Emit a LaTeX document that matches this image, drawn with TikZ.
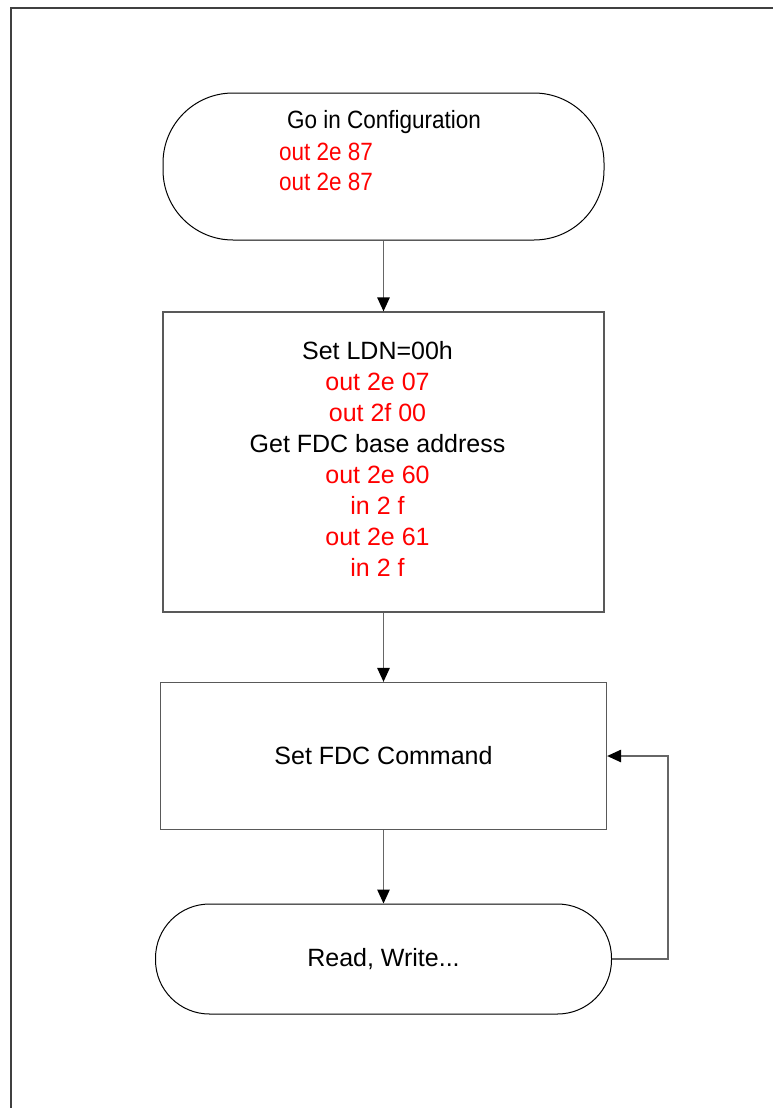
\documentclass[tikz,border=0pt]{standalone}
\usepackage{fontspec}
\setmainfont{Liberation Sans}
\newfontfamily\narrowsans[FakeStretch=0.9]{Liberation Sans}
\usetikzlibrary{positioning}
\usetikzlibrary{arrows.meta}

\begin{document}
\begin{tikzpicture}
    [
    x=1pt, y=-1pt,
    on grid,
    font=\fontsize{25}{31}\selectfont,
    terminal/.style={draw=black, line width=1pt, rectangle, minimum width=441pt, minimum height=147pt, rounded corners=70pt},
    process/.style={draw=gray!70!black, line width=1.3pt, rectangle, minimum width=441pt},
    narrowtext/.style={inner sep=0pt, font=\narrowsans\fontsize{25}{31}\selectfont},
    codeblock/.style={inner sep=0pt, align=center},
    flow/.style={draw=gray!80!black, line width=1.3pt, -{Triangle[length=14pt,width=12.5pt,black]}},
    ]

    \clip (0,0) rectangle (773,1108);
    \draw[line width=2pt, gray!50!black] (10.5,8.5) rectangle (900,1200);

    \node[terminal] (start) at (383.5,166.5) {};
    \node[narrowtext, anchor=base] (start_title) at (384,128) {Go in Configuration};
    \node[narrowtext, text=red, anchor=base west] (start_out_a) at (279,160) {out 2e 87};
    \node[narrowtext, text=red, anchor=base west] (start_out_b) at (279,190) {out 2e 87};

    \node[process, minimum height=300pt, below=295.5pt of start] (setldn) {};
    \node[codeblock, anchor=north] (setldn_text) at ([xshift=-6pt, yshift=-30pt]setldn.north)
    {Set LDN=00h\\
     \textcolor{red}{out 2e 07}\\
     \textcolor{red}{out 2f 00}\\
     Get FDC base address\\
     \textcolor{red}{out 2e 60}\\
     \textcolor{red}{in 2 f}\\
     \textcolor{red}{out 2e 61}\\
     \textcolor{red}{in 2 f}};

    \node[process, minimum width=446pt, minimum height=147pt, below=294pt of setldn] (setcmd) {Set FDC Command};

    \node[terminal, minimum width=456pt, minimum height=110pt, rounded corners=54pt, below=203pt of setcmd] (rw) {Read, Write...};

    \draw[flow] (start) -- (setldn);
    \draw[flow] (setldn) -- (setcmd);
    \draw[flow] (setcmd) -- (rw);
    \draw[flow] (rw.east) -- ++(56,0) |- (setcmd.east);
\end{tikzpicture}
\end{document}
